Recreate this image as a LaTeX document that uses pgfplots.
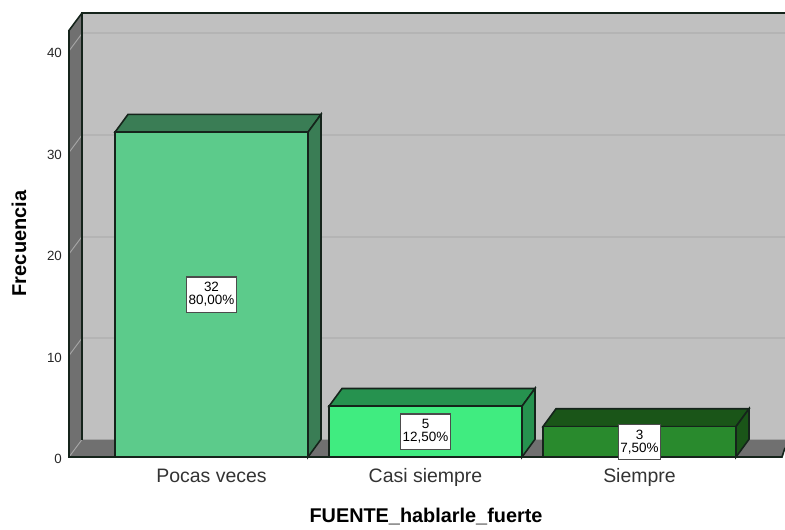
\documentclass[border=0pt]{standalone}
\usepackage{fontspec}
\setmainfont{Liberation Sans}
\usepackage{pgfplots}
\pgfplotsset{compat=1.18}

% x axis is in image pixels, y axis in frequency (10.15 px per unit)
\definecolor{wall}{HTML}{C0C0C0}
\definecolor{side}{HTML}{707070}
\definecolor{gridback}{HTML}{B4B4B4}
\definecolor{gridside}{HTML}{A6A6A6}
\definecolor{edge}{HTML}{15241B}
\definecolor{barA}{HTML}{5CCB8B}
\definecolor{barAdark}{HTML}{3A7D55}
\definecolor{barB}{HTML}{40EC80}
\definecolor{barBdark}{HTML}{26924F}
\definecolor{barC}{HTML}{298A2D}
\definecolor{barCdark}{HTML}{1A5518}

\tikzset{vallabel/.style={draw=black!70,line width=0.9pt,fill=white,font=\fontsize{10.1pt}{9.8pt}\selectfont,
  align=center,inner sep=0pt,minimum width=38pt,minimum height=26.5pt}}

\begin{document}
\begin{tikzpicture}
\path[use as bounding box] (0,0) rectangle (588.75pt,396.75pt);
\begin{axis}[
    at={(51.75pt,54pt)},anchor=south west,
    scale only axis,
    width=537pt,height=333pt,
    xmin=69,xmax=785,
    ymin=0,ymax=43.74,
    clip=false,
    axis line style={draw=none},
    tick style={draw=none},
    xtick={211.5,425.5,639.5},
    xticklabels={Pocas veces,Casi siempre,Siempre},
    ytick={0,10,20,30,40},
    /pgf/number format/assume math mode=true,
    x tick label style={font=\fontsize{14.6pt}{16pt}\selectfont,text=black!80,
        text height=10.5pt,text depth=3pt,yshift=-5pt},
    y tick label style={font=\fontsize{10pt}{12pt}\selectfont,text=black!85,xshift=-1.8pt,yshift=-1.6pt},
    xlabel={FUENTE\_hablarle\_fuerte},
    ylabel={Frecuencia},
    xlabel style={font=\bfseries\fontsize{14.9pt}{16pt}\selectfont,at={(axis description cs:0.4986,-0.135)},anchor=center},
    ylabel style={font=\bfseries\fontsize{15pt}{16pt}\selectfont,at={(axis description cs:-0.0698,0.481)},anchor=center},
]
% back wall, side wall, floor
\addplot[fill=wall,draw=none] coordinates {(82,1.72) (785,1.72) (785,43.74) (82,43.74)} --cycle;
\addplot[fill=side,draw=none] coordinates {(69,0) (82,1.72) (82,43.74) (69,42.02)} --cycle;
\addplot[fill=side,draw=none] coordinates {(69,0) (782,0) (785,0.9) (785,1.72) (82,1.72)} --cycle;
% gridlines
\addplot[gridback,line width=1.5pt] coordinates {(82,11.72) (785,11.72)};
\addplot[gridback,line width=1.5pt] coordinates {(82,21.72) (785,21.72)};
\addplot[gridback,line width=1.5pt] coordinates {(82,31.72) (785,31.72)};
\addplot[gridback,line width=1.5pt] coordinates {(82,41.72) (785,41.72)};
\addplot[gridside,line width=0.7pt] coordinates {(69,0) (82,1.72)};
\addplot[gridside,line width=0.7pt] coordinates {(69,10) (82,11.72)};
\addplot[gridside,line width=0.7pt] coordinates {(69,20) (82,21.72)};
\addplot[gridside,line width=0.7pt] coordinates {(69,30) (82,31.72)};
\addplot[gridside,line width=0.7pt] coordinates {(69,40) (82,41.72)};
% frame edges
\addplot[edge,line width=1.2pt] coordinates {(785,43.74) (82,43.74) (82,1.72)};
\addplot[edge,line width=1.2pt] coordinates {(82,43.74) (69,42.02) (69,0) (782,0) (785,0.9)};
% Pocas veces = 32
\addplot[fill=barAdark,draw=edge,line width=1.2pt] coordinates {(115,32) (128,33.75) (321,33.75) (308,32)} --cycle;
\addplot[fill=barAdark,draw=edge,line width=1.2pt] coordinates {(308,0) (321,1.75) (321,33.75) (308,32)} --cycle;
\addplot[fill=barA,draw=edge,line width=1.2pt] coordinates {(115,0) (308,0) (308,32) (115,32)} --cycle;
% Casi siempre = 5
\addplot[fill=barBdark,draw=edge,line width=1.2pt] coordinates {(329,5) (342,6.75) (535,6.75) (522,5)} --cycle;
\addplot[fill=barBdark,draw=edge,line width=1.2pt] coordinates {(522,0) (535,1.75) (535,6.75) (522,5)} --cycle;
\addplot[fill=barB,draw=edge,line width=1.2pt] coordinates {(329,0) (522,0) (522,5) (329,5)} --cycle;
% Siempre = 3
\addplot[fill=barCdark,draw=edge,line width=1.2pt] coordinates {(543,3) (556,4.75) (749,4.75) (736,3)} --cycle;
\addplot[fill=barCdark,draw=edge,line width=1.2pt] coordinates {(736,0) (749,1.75) (749,4.75) (736,3)} --cycle;
\addplot[fill=barC,draw=edge,line width=1.2pt] coordinates {(543,0) (736,0) (736,3) (543,3)} --cycle;
% value labels
\node[vallabel] at (axis cs:211.5,16) {32\\80,00\%};
\node[vallabel] at (axis cs:425.5,2.5) {5\\12,50\%};
\node[vallabel,minimum width=32pt] at (axis cs:639.5,1.5) {3\\7,50\%};
\end{axis}
\end{tikzpicture}
\end{document}
